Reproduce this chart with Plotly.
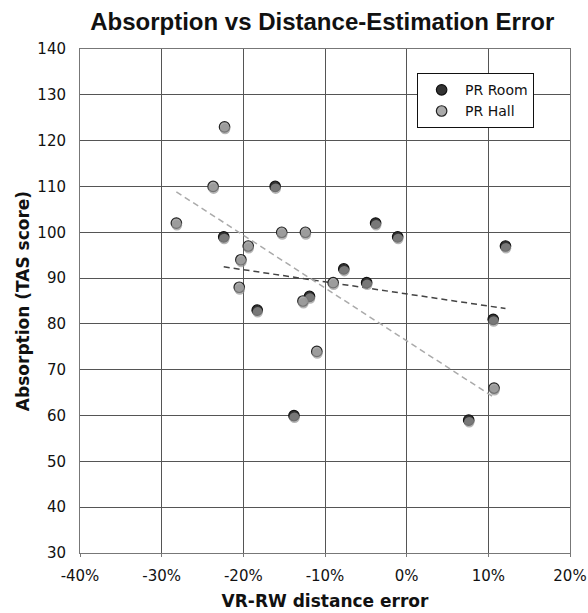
import numpy as np
import plotly.graph_objects as go

# Data (x as fraction of distance error, y as TAS score)
room_x = [-0.224, -0.161, -0.183, -0.138, -0.119, -0.077, -0.049, -0.038, -0.011, 0.076, 0.106, 0.121]
room_y = [99, 110, 83, 60, 86, 92, 89, 102, 99, 59, 81, 97]
hall_x = [-0.282, -0.237, -0.223, -0.203, -0.205, -0.194, -0.153, -0.124, -0.127, -0.110, -0.090, 0.107]
hall_y = [102, 110, 123, 94, 88, 97, 100, 100, 85, 74, 89, 66]

x_tickvals = [-0.4, -0.3, -0.2, -0.1, 0.0, 0.1, 0.2]
x_ticktext = ["-40%", "-30%", "-20%", "-10%", "0%", "10%", "20%"]
y_tickvals = [30, 40, 50, 60, 70, 80, 90, 100, 110, 120, 130, 140]

X_RANGE = [-0.4, 0.2]
Y_RANGE = [30, 140]

fig = go.Figure()

def trend(xs, ys):
    m, b = np.polyfit(xs, ys, 1)
    x0, x1 = min(xs), max(xs)
    return [x0, x1], [m * x0 + b, m * x1 + b]

# shadows (drawn on slightly shifted overlay axes)
for xs, ys in [(room_x, room_y), (hall_x, hall_y)]:
    fig.add_trace(go.Scatter(x=xs, y=ys, mode="markers", xaxis="x2", yaxis="y2",
                             marker=dict(size=10.5, color="rgba(150,150,150,0.7)", line=dict(width=0)),
                             showlegend=False, hoverinfo="skip"))

tx, ty = trend(room_x, room_y)
fig.add_trace(go.Scatter(x=tx, y=ty, mode="lines", line=dict(color="#444444", width=1.5, dash="6px,4px"),
                         showlegend=False, hoverinfo="skip"))
tx, ty = trend(hall_x, hall_y)
fig.add_trace(go.Scatter(x=tx, y=ty, mode="lines", line=dict(color="#aaaaaa", width=1.5, dash="6px,4px"),
                         showlegend=False, hoverinfo="skip"))

fig.add_trace(go.Scatter(x=room_x, y=room_y, mode="markers", name="PR Room",
                         marker=dict(size=10.5, color="#333333", line=dict(color="#111111", width=1.2))))
fig.add_trace(go.Scatter(x=hall_x, y=hall_y, mode="markers", name="PR Hall",
                         marker=dict(size=10.5, color="#aaaaaa", line=dict(color="#222222", width=1.2))))

tick_font = dict(family="DejaVu Sans", size=15, color="#111111")
title_font = dict(family="DejaVu Sans", size=17, color="#111111")

# shift for shadow: ~2px
dy = (Y_RANGE[1] - Y_RANGE[0]) / 504 * 2.2
dx = (X_RANGE[1] - X_RANGE[0]) / 490 * 0.5

fig.update_layout(
    width=588, height=613,
    margin=dict(l=80, r=18, t=49, b=60, autoexpand=False),
    paper_bgcolor="white", plot_bgcolor="white",
    title=dict(text="<b>Absorption vs Distance-Estimation Error</b>",
               font=dict(family="Liberation Sans", size=24, color="#111111"),
               x=0.548, xanchor="center", y=0.964, yanchor="middle"),
    xaxis=dict(range=X_RANGE, tickvals=x_tickvals, ticktext=x_ticktext,
               showgrid=True, gridcolor="#555555", gridwidth=1,
               showline=True, linecolor="#777777", linewidth=1, mirror=True,
               ticks="outside", ticklen=3, tickcolor="#777777",
               ticklabelstandoff=6, automargin=False,
               zeroline=False, tickfont=tick_font,
               title=dict(text="<b>VR-RW distance error</b>", font=title_font, standoff=11)),
    yaxis=dict(range=Y_RANGE, tickvals=y_tickvals,
               showgrid=True, gridcolor="#555555", gridwidth=1,
               showline=True, linecolor="#777777", linewidth=1, mirror=True,
               ticks="", zeroline=False, tickfont=tick_font,
               ticklabelstandoff=10, automargin=False,
               title=dict(text="<b>Absorption (TAS score)</b>", font=title_font, standoff=3)),
    xaxis2=dict(range=[X_RANGE[0] - dx, X_RANGE[1] - dx], overlaying="x", visible=False),
    yaxis2=dict(range=[Y_RANGE[0] + dy, Y_RANGE[1] + dy], overlaying="y", visible=False),
    legend=dict(x=0.688, y=0.952, xanchor="left", yanchor="top",
                bgcolor="white", bordercolor="#111111", borderwidth=1,
                font=dict(family="DejaVu Sans", size=14, color="#111111"),
                itemwidth=37, tracegroupgap=0),
    showlegend=True,
)

fig.write_html("out.html")
